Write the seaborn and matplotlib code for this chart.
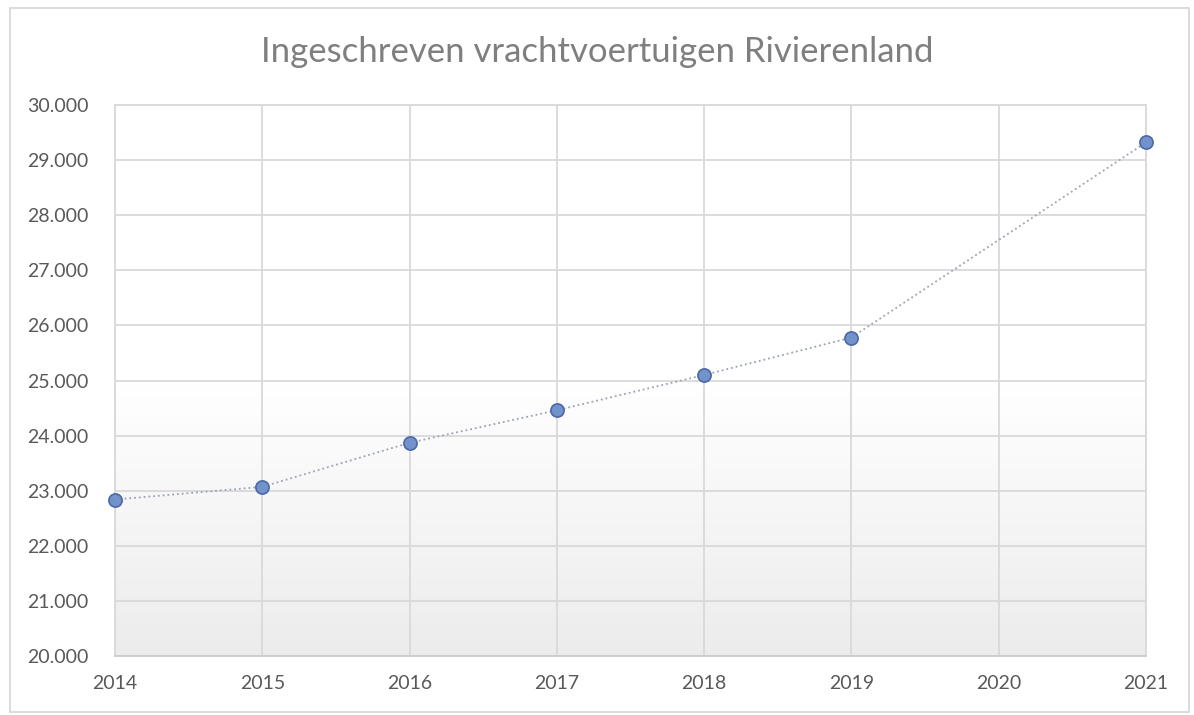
import numpy as np
import pandas as pd
import matplotlib
matplotlib.use("Agg")
import matplotlib.pyplot as plt
import seaborn as sns
from matplotlib.patches import Rectangle
from matplotlib.ticker import FuncFormatter

years = [2014, 2015, 2016, 2017, 2018, 2019, 2021]
vehicles = [22840, 23070, 23870, 24460, 25100, 25780, 29320]
x_ticks = [2014, 2015, 2016, 2017, 2018, 2019, 2020, 2021]
title = "Ingeschreven vrachtvoertuigen Rivierenland"

sns.set_theme(style="white")
plt.rcParams['font.family'] = ['Lato', 'DejaVu Sans']

df = pd.DataFrame({"jaar": years, "aantal": vehicles})

fig = plt.figure(figsize=(11.94, 7.15), dpi=100)
ax = fig.add_axes([115/1194, 1 - 656/715, (1146-115)/1194, (656-105)/715])

# background gradient in plot area
grad = np.concatenate([np.zeros(50), np.linspace(0, 1, 50)]).reshape(-1, 1)
cmap = matplotlib.colors.LinearSegmentedColormap.from_list("g", ["#ffffff", "#ececec"])
ax.imshow(grad, aspect="auto", cmap=cmap, extent=[0, 1, 0, 1], origin="upper",
          transform=ax.transAxes, zorder=0)

sns.lineplot(data=df, x="jaar", y="aantal", ax=ax, color="#9aa3b5", linestyle=":",
             linewidth=1.3, marker="o", markersize=9.5, markerfacecolor="#7292cc",
             markeredgecolor="#4c68a6", markeredgewidth=1.2, zorder=3, clip_on=False)

ax.set_xlim(2014, 2021)
ax.set_ylim(20000, 30000)
ax.set_xticks(x_ticks)
ax.set_yticks(np.arange(20000, 30001, 1000))
ax.yaxis.set_major_formatter(FuncFormatter(lambda v, p: f"{int(v):,}".replace(",", ".")))
ax.grid(True, color="#d9d9d9", linewidth=1.3, zorder=1)
ax.set_axisbelow(True)
for s in ax.spines.values():
    s.set_color("#d9d9d9")
    s.set_linewidth(1.3)
ax.spines["bottom"].set_color("#cccccc")
ax.set_xlabel("")
ax.set_ylabel("")
ax.tick_params(axis="both", labelsize=14, colors="#595959", length=0)
ax.tick_params(axis="x", pad=14)
ax.tick_params(axis="y", pad=19)

fig.text(0.5, 1 - 52/715, title, ha="center", va="center", fontsize=25, color="#7f7f7f")

fig.patches.append(Rectangle((10/1194, 3/715), 1179/1194, (707-3)/715, transform=fig.transFigure,
                             fill=False, edgecolor="#d9d9d9", linewidth=1.3))

fig.savefig("out.png", dpi=100)
